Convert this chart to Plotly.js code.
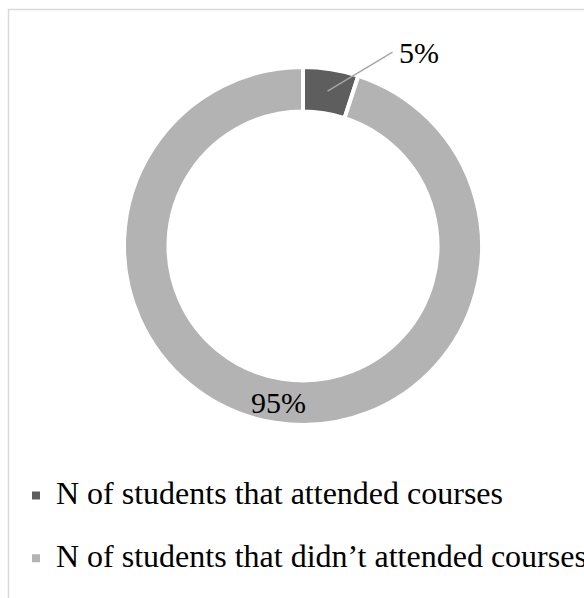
<!DOCTYPE html>
<html><head><meta charset="utf-8">
<script src="https://cdn.plot.ly/plotly-3.0.1.min.js"></script>
<style>html,body{margin:0;padding:0;background:#fff;overflow:hidden}#chart{width:584px;height:598px}</style>
</head><body><div id="chart"></div>
<script>
// ---- data ----
const categories = ["N of students that attended courses", "N of students that didn\u2019t attended courses"];
const values = [5, 95];
const colors = ["#5e5e5e", "#b3b3b3"];

// ---- layout constants ----
const W = 584, H = 598;
const CX = 303, CY = 246, R = 179, HOLE = 0.7514;
const FONT = "Liberation Serif";

const total = values.reduce((a, b) => a + b, 0);
const pct = values.map(v => Math.round(v / total * 100) + '%');
const rMid = (R + R * HOLE) / 2;
// position at the middle of each slice (clockwise from 12 o'clock)
let cum = 0;
const mids = values.map(v => {
  const f = (cum + v / 2) / total; cum += v;
  const t = 2 * Math.PI * f;
  return {x: (CX + rMid * Math.sin(t)) / W, y: 1 - (CY - rMid * Math.cos(t)) / H};
});

const legendLabels = categories.map(c => '<span style="font-size:32px">' + c + '</span><br> ');

const trace = {
  type: 'pie', labels: legendLabels, values: values, sort: false,
  direction: 'clockwise', rotation: 0, hole: HOLE,
  marker: {colors: colors, line: {color: '#ffffff', width: 4}},
  textinfo: 'none',
  domain: {x: [(CX - R) / W, (CX + R) / W], y: [1 - (CY + R) / H, 1 - (CY - R) / H]},
  hoverinfo: 'none'
};

const layout = {
  width: W, height: H,
  margin: {l: 0, r: 0, t: 0, b: 0, autoexpand: false},
  paper_bgcolor: '#ffffff',
  showlegend: true,
  legend: {x: 16 / W, y: 1 - 474 / H, xanchor: 'left', yanchor: 'top',
           font: {family: FONT, size: 23, color: '#000000'}, valign: 'top',
           bgcolor: 'rgba(0,0,0,0)'},
  shapes: [{type: 'rect', xref: 'paper', yref: 'paper', x0: 8.5 / W, x1: 1.1, y0: -0.1, y1: 1 - 9.5 / H,
            line: {color: '#d9d9d9', width: 1.5}, fillcolor: 'rgba(0,0,0,0)', layer: 'below'}],
  annotations: [
    {x: mids[0].x, y: mids[0].y, xref: 'paper', yref: 'paper', text: pct[0],
     showarrow: true, arrowhead: 0, arrowwidth: 1.4, arrowcolor: '#a6a6a6',
     ax: 65, ay: -39, xanchor: 'left', yanchor: 'middle', borderpad: 5,
     font: {family: FONT, size: 30, color: '#000000'}},
    {x: mids[1].x, y: mids[1].y, xref: 'paper', yref: 'paper', text: pct[1],
     showarrow: false, xanchor: 'center', yanchor: 'middle', yshift: -2,
     font: {family: FONT, size: 30, color: '#000000'}}
  ]
};

Plotly.newPlot('chart', [trace], layout, {displayModeBar: false, staticPlot: true});
</script></body></html>
